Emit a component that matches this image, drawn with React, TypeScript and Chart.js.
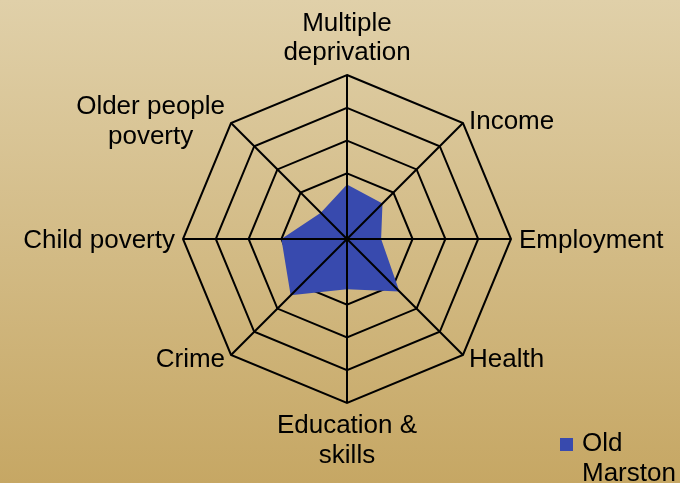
import React, { useEffect, useRef } from "react";
import { Chart, registerables } from "chart.js";

Chart.register(...registerables);

const categories: (string | string[])[] = [
  ["Multiple", "deprivation"],
  "Income",
  "Employment",
  "Health",
  ["Education &", "skills"],
  "Crime",
  "Child poverty",
  ["Older people", "poverty"],
];
const seriesName = "Old Marston";
const seriesValues = [1.66, 1.53, 1.04, 2.26, 1.53, 2.43, 2.0, 1.13];
const scaleMin = 0;
const scaleMax = 5;
const scaleStep = 1;

const FILL = "rgb(56,74,174)";
const FONT = "26px 'Liberation Sans', Arial, sans-serif";
const LH = 29.5;

const overlayPlugin = {
  id: "overlay",
  afterDatasetsDraw(chart: any) {
    const scale = chart.scales.r;
    const ctx = chart.ctx;
    const cx = scale.xCenter;
    const cy = scale.yCenter;
    const R = scale.drawingArea;
    // spokes drawn over the filled area
    ctx.save();
    ctx.strokeStyle = "#000";
    ctx.lineWidth = 2;
    for (let i = 0; i < categories.length; i++) {
      const p = scale.getPointPosition(i, R);
      ctx.beginPath();
      ctx.moveTo(cx, cy);
      ctx.lineTo(p.x, p.y);
      ctx.stroke();
    }
    ctx.restore();

    // category labels
    ctx.save();
    ctx.font = FONT;
    ctx.fillStyle = "#000";
    ctx.textBaseline = "alphabetic";
    for (let i = 0; i < categories.length; i++) {
      const lab = categories[i];
      const lines = Array.isArray(lab) ? lab : [lab];
      const p = scale.getPointPosition(i, R);
      const ux = (p.x - cx) / R;
      const uy = (p.y - cy) / R;
      const n = lines.length;
      let baseline0: number;
      let x: number;
      let blockAlign: "left" | "right" | "center";
      if (Math.abs(ux) < 0.01) {
        blockAlign = "center";
        x = p.x;
        if (uy < 0) {
          baseline0 = p.y - 15 - (n - 1) * LH;
        } else {
          baseline0 = p.y + 30;
        }
      } else {
        blockAlign = ux > 0 ? "left" : "right";
        const gap = Math.abs(uy) < 0.01 ? 8 : 6;
        x = p.x + (ux > 0 ? gap : -gap);
        const centerY = p.y + uy * 4;
        baseline0 = centerY - ((n - 1) * LH) / 2 + 9;
      }
      // lines are centered relative to each other within the block
      const widths = lines.map((l) => ctx.measureText(l).width);
      const bw = Math.max(...widths);
      let blockCenter: number;
      if (blockAlign === "center") blockCenter = x;
      else if (blockAlign === "left") blockCenter = x + bw / 2;
      else blockCenter = x - bw / 2;
      ctx.textAlign = "center";
      lines.forEach((l, k) => {
        ctx.fillText(l, blockCenter, baseline0 + k * LH);
      });
    }
    ctx.restore();
  },
  afterDraw(chart: any) {
    const ctx = chart.ctx;
    const ds = chart.data.datasets[0];
    ctx.save();
    ctx.fillStyle = ds.backgroundColor;
    ctx.fillRect(560, 438, 13, 13);
    ctx.font = FONT;
    ctx.fillStyle = "#000";
    ctx.textAlign = "left";
    ctx.textBaseline = "alphabetic";
    const parts = String(ds.label).split(" ");
    parts.forEach((t: string, k: number) => {
      ctx.fillText(t, 582, 451 + k * LH);
    });
    ctx.restore();
  },
};

export default function App() {
  const ref = useRef<HTMLCanvasElement>(null);
  useEffect(() => {
    if (!ref.current) return;
    const chart = new Chart(ref.current, {
      type: "radar",
      data: {
        labels: categories as any,
        datasets: [
          {
            label: seriesName,
            data: seriesValues,
            backgroundColor: FILL,
            borderWidth: 0,
            pointRadius: 0,
            pointHoverRadius: 0,
            fill: true,
          },
        ],
      },
      options: {
        responsive: false,
        animation: false,
        events: [],
        layout: { padding: { top: 75, bottom: 80, left: 100, right: 86 } },
        plugins: {
          legend: { display: false },
          tooltip: { enabled: false },
        },
        scales: {
          r: {
            min: scaleMin,
            max: scaleMax,
            ticks: { stepSize: scaleStep, display: false },
            grid: { color: "#000", lineWidth: 2 },
            angleLines: { display: false },
            pointLabels: { display: false },
          },
        },
      },
      plugins: [overlayPlugin],
    });
    return () => chart.destroy();
  }, []);
  return (
    <div
      style={{
        position: "fixed",
        left: 0,
        top: 0,
        width: 680,
        height: 483,
        background: "linear-gradient(to bottom, #e0d0a9 0%, #c6a764 100%)",
        overflow: "hidden",
      }}
    >
      <canvas ref={ref} width={680} height={483} style={{ display: "block" }} />
    </div>
  );
}
